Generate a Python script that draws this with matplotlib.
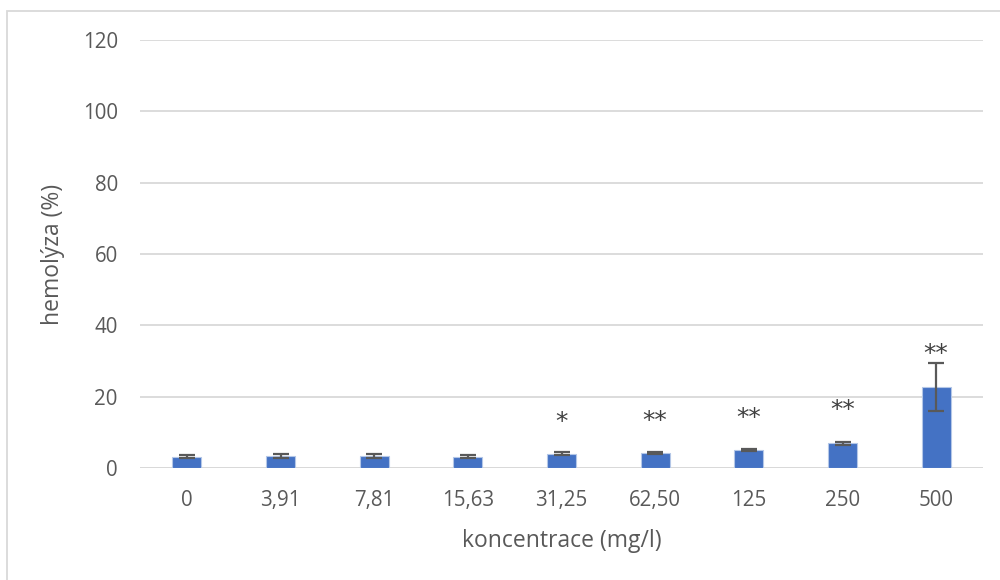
import matplotlib.pyplot as plt
from matplotlib.patches import Rectangle

plt.rcParams['font.family'] = ['Open Sans', 'DejaVu Sans']

# koncentrace a naměřená hemolýza
koncentrace = ['0', '3,91', '7,81', '15,63', '31,25', '62,50', '125', '250', '500']
hemolyza = [3.2, 3.4, 3.4, 3.2, 4.0, 4.2, 4.95, 6.9, 22.8]
sd = [0.4, 0.5, 0.65, 0.4, 0.4, 0.3, 0.3, 0.5, 6.7]
vyznamnost = ['', '', '', '', '*', '**', '**', '**', '**']
vyska_popisku = [0, 0, 0, 0, 12.9, 13.2, 14.0, 16.3, 32.0]

seda = '#595959'

fig = plt.figure(figsize=(10, 5.8), dpi=100)
ax = fig.add_axes([0.14, 0.193, 0.843, 0.738])

x = range(len(koncentrace))
ax.bar(x, hemolyza, width=0.31, color='#4472C4', edgecolor='#B4C7E7',
       linewidth=0.8, zorder=3)
ax.errorbar(x, hemolyza, yerr=sd, fmt='none', ecolor=seda, elinewidth=1.6,
            capsize=6, capthick=1.6, zorder=4)

for i, (znak, y) in enumerate(zip(vyznamnost, vyska_popisku)):
    if znak:
        ax.text(i, y, znak, ha='center', va='center', fontsize=18,
                color='#404040', family=['DejaVu Sans'])

ax.set_xlim(-0.5, len(koncentrace) - 0.5)
ax.set_ylim(0, 120)
ax.set_yticks(range(0, 121, 20))
ax.set_xticks(list(x))
ax.set_xticklabels(koncentrace)
ax.grid(axis='y', color='#D9D9D9', linewidth=1.3, zorder=0)
ax.tick_params(axis='both', length=0, labelsize=14.8, colors=seda)
ax.tick_params(axis='y', pad=16)
ax.tick_params(axis='x', pad=16)
for s in ax.spines.values():
    s.set_visible(False)
ax.axhline(0, color='#D9D9D9', linewidth=1.3, zorder=2)

ax.set_xlabel('koncentrace (mg/l)', fontsize=16.5, color=seda, labelpad=13)
ax.set_ylabel('hemolýza (%)', fontsize=16.5, color=seda, labelpad=13)

# rámeček grafu
fig.patches.append(Rectangle((0.007, -0.1), 1.1, 1.081, transform=fig.transFigure,
                             fill=False, edgecolor='#D9D9D9', linewidth=1.3))

fig.savefig('out.png', dpi=100)
